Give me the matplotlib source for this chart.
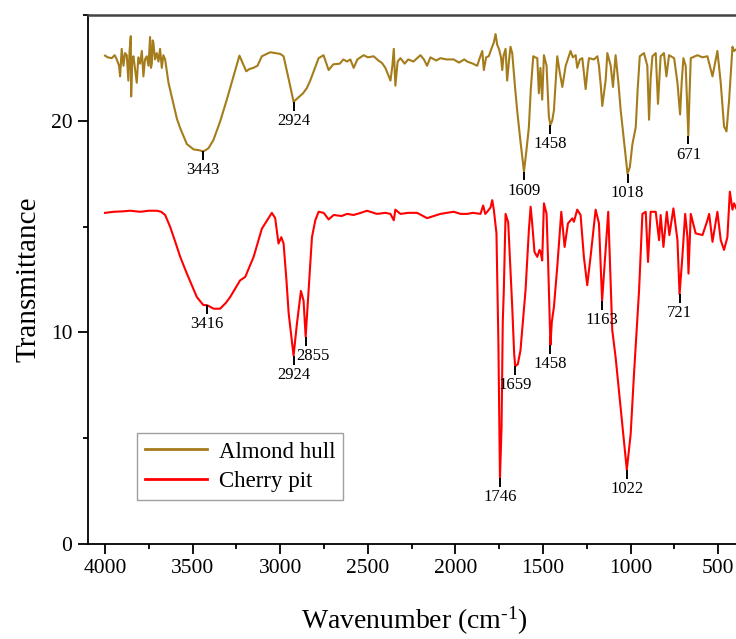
import numpy as np
import matplotlib
matplotlib.use("Agg")
import matplotlib.pyplot as plt
from matplotlib.ticker import MultipleLocator

plt.rcParams['font.family'] = ['Liberation Serif', 'DejaVu Serif']
plt.rcParams['mathtext.fontset'] = 'custom'
plt.rcParams['mathtext.rm'] = 'Liberation Serif'
plt.rcParams['mathtext.it'] = 'Liberation Serif'

# ---------------- data ----------------
almond_wn = [4000, 3985, 3962, 3945, 3933, 3920, 3914, 3905, 3895, 3886, 3876, 3867, 3860, 3853, 3851,
             3845, 3838, 3828, 3819, 3810, 3800, 3790, 3781, 3772, 3762, 3752, 3743, 3738, 3733, 3728,
             3724, 3715, 3705, 3695, 3686, 3676, 3667, 3657, 3638, 3610, 3590, 3571, 3533, 3495, 3457,
             3443, 3429, 3410, 3381, 3343, 3305, 3267, 3233, 3194, 3175, 3154, 3130, 3105, 3057, 3000,
             2981, 2950, 2924, 2910, 2897, 2870, 2848, 2829, 2781, 2753, 2724, 2697, 2660, 2640, 2619,
             2600, 2581, 2560, 2524, 2500, 2467, 2440, 2419, 2400, 2371, 2360, 2352, 2343, 2330, 2314,
             2290, 2270, 2240, 2200, 2180, 2162, 2143, 2110, 2086, 2050, 2010, 1980, 1950, 1933, 1900,
             1876, 1860, 1847, 1838, 1825, 1810, 1795, 1781, 1771, 1762, 1752, 1740, 1733, 1725, 1714,
             1705, 1695, 1686, 1676, 1660, 1648, 1630, 1609, 1595, 1581, 1570, 1556, 1545, 1533, 1524,
             1515, 1505, 1495, 1480, 1467, 1458, 1448, 1438, 1419, 1405, 1390, 1371, 1343, 1330, 1314,
             1305, 1290, 1276, 1257, 1245, 1238, 1210, 1190, 1181, 1170, 1162, 1143, 1133, 1114, 1101,
             1086, 1070, 1057, 1035, 1018, 1005, 990, 971, 960, 948, 924, 905, 895, 886, 876,
             857, 844, 829, 810, 796, 781, 752, 733, 718, 709, 699, 686, 671, 665, 657,
             619, 590, 562, 533, 505, 486, 467, 453, 438, 419, 410, 394, 376]
almond_T = [23.08, 23.0, 22.96, 23.1, 22.9, 22.6, 22.1, 23.4, 22.6, 23.2, 23.1, 21.9, 23.3, 24.0, 21.15,
            22.8, 23.05, 22.4, 21.8, 23.0, 22.7, 23.3, 22.1, 22.9, 23.05, 22.6, 23.96, 22.5, 22.7, 23.8,
            23.7, 22.9, 23.2, 22.8, 23.4, 22.5, 23.1, 22.9, 21.8, 20.8, 20.1, 19.65, 18.9, 18.65, 18.6,
            18.55, 18.6, 18.7, 19.1, 19.97, 21.0, 22.1, 23.08, 22.34, 22.45, 22.5, 22.6, 23.05, 23.24, 23.16,
            23.05, 21.9, 20.9, 21.0, 21.1, 21.3, 21.55, 21.9, 22.96, 23.1, 22.4, 22.67, 22.7, 22.9, 22.8,
            22.9, 22.5, 22.9, 23.1, 23.0, 23.05, 22.85, 22.73, 22.5, 21.9, 22.6, 23.4, 21.66, 22.8, 22.96,
            22.7, 22.9, 22.8, 23.1, 22.9, 22.6, 23.0, 22.85, 22.96, 22.9, 22.9, 22.75, 22.9, 22.8, 22.7,
            22.6, 23.0, 23.3, 22.4, 23.0, 23.05, 23.4, 23.7, 24.1, 23.6, 23.4, 23.0, 22.4, 23.1, 23.4,
            21.9, 22.8, 23.5, 23.2, 21.6, 20.5, 19.1, 17.6, 18.6, 19.7, 21.5, 23.05, 23.0, 22.96, 21.3,
            22.5, 21.0, 23.1, 22.6, 20.2, 19.8, 20.0, 20.5, 23.05, 22.3, 21.6, 22.6, 23.3, 23.0, 23.1,
            22.5, 22.9, 22.96, 21.5, 22.5, 22.96, 22.9, 23.05, 22.6, 21.6, 20.7, 21.9, 23.2, 22.6, 21.6,
            23.1, 21.8, 20.5, 18.8, 17.5, 17.8, 18.9, 19.7, 21.5, 23.05, 23.2, 22.6, 20.05, 22.0, 23.05,
            23.2, 20.8, 23.05, 23.2, 22.1, 23.1, 22.96, 21.8, 20.3, 21.8, 22.96, 22.6, 19.3, 21.0, 22.96,
            23.1, 23.0, 23.05, 22.1, 23.3, 21.8, 19.73, 19.5, 21.0, 23.5, 23.3, 23.4, 23.3]

cherry_wn = [4000, 3950, 3900, 3857, 3800, 3750, 3705, 3680, 3657, 3629, 3600, 3571, 3533, 3476, 3440,
             3416, 3380, 3343, 3310, 3286, 3229, 3200, 3152, 3105, 3048, 3029, 3010, 2994, 2981, 2965,
             2952, 2935, 2924, 2905, 2882, 2867, 2855, 2838, 2819, 2800, 2781, 2752, 2724, 2695, 2650,
             2619, 2581, 2540, 2505, 2448, 2400, 2371, 2352, 2343, 2314, 2270, 2219, 2162, 2124, 2086,
             2050, 2010, 1970, 1933, 1900, 1857, 1842, 1830, 1819, 1800, 1790, 1781, 1766, 1755, 1746,
             1737, 1730, 1724, 1714, 1699, 1676, 1665, 1659, 1644, 1629, 1600, 1581, 1571, 1562, 1549,
             1533, 1520, 1514, 1505, 1495, 1480, 1472, 1458, 1450, 1438, 1419, 1396, 1377, 1358, 1333,
             1324, 1305, 1286, 1267, 1248, 1229, 1200, 1181, 1163, 1143, 1128, 1105, 1086, 1048, 1022,
             1000, 981, 952, 933, 914, 901, 886, 857, 838, 829, 813, 794, 779, 756, 733,
             721, 705, 689, 676, 670, 657, 629, 590, 562, 552, 533, 505, 486, 467, 448,
             434, 419, 410, 394, 376]
cherry_T = [15.65, 15.7, 15.72, 15.75, 15.7, 15.75, 15.75, 15.7, 15.55, 15.0, 14.3, 13.57, 12.78, 11.67, 11.3,
            11.28, 11.12, 11.12, 11.4, 11.67, 12.46, 12.62, 13.57, 14.9, 15.65, 15.4, 14.2, 14.5, 14.2, 12.5,
            10.9, 9.7, 8.9, 10.4, 11.96, 11.5, 9.8, 12.0, 14.5, 15.3, 15.7, 15.65, 15.34, 15.55, 15.5,
            15.6, 15.55, 15.65, 15.75, 15.6, 15.65, 15.6, 15.3, 15.8, 15.6, 15.65, 15.65, 15.4, 15.5, 15.6,
            15.65, 15.7, 15.6, 15.6, 15.65, 15.6, 16.0, 15.6, 15.7, 15.9, 16.25, 15.8, 14.68, 9.5, 3.1,
            5.5, 10.5, 12.0, 15.6, 15.2, 11.2, 9.0, 8.4, 8.5, 9.15, 12.0, 14.83, 15.94, 15.15, 13.8,
            13.57, 13.9, 13.8, 13.4, 16.1, 15.6, 13.57, 9.4, 10.5, 11.2, 13.1, 15.7, 14.04, 15.15, 15.39,
            15.23, 15.8, 15.55, 13.57, 12.23, 13.57, 15.8, 15.15, 11.5, 13.9, 15.7, 10.1, 8.83, 5.67, 3.5,
            5.2, 8.04, 12.0, 15.6, 15.7, 13.33, 15.7, 15.7, 14.36, 15.55, 14.04, 15.7, 14.6, 15.86, 14.36,
            11.8, 13.57, 15.6, 14.5, 12.78, 15.6, 14.68, 14.6, 15.3, 15.6, 14.28, 15.7, 14.36, 13.9, 14.5,
            16.65, 15.8, 16.1, 15.8, 15.8]

almond_peaks = [3443, 2924, 1609, 1458, 1018, 671]
cherry_peaks = [3416, 2924, 2855, 1746, 1659, 1458, 1163, 1022, 721]

series_names = ["Almond hull", "Cherry pit"]
colors = ["#A57C1B", "#FF0000"]

# ---------------- figure ----------------
W, H = 736, 639
fig = plt.figure(figsize=(W / 100, H / 100), dpi=100)
ax = fig.add_axes([87.7 / W, 95 / H, 652.3 / W, 529 / H])

ax.plot(almond_wn, almond_T, color=colors[0], lw=1.5, label=series_names[0])
ax.plot(cherry_wn, cherry_T, color=colors[1], lw=1.5, label=series_names[1])

ax.set_xlim(4099, 376)
ax.set_ylim(0, 25)


def annotate(wns, Ts, peaks, shifts):
    wns = np.asarray(wns, float)
    Ts = np.asarray(Ts, float)
    for p in peaks:
        m = np.abs(wns - p) <= 12
        tip = Ts[m].min()
        ax.plot([p, p], [tip, tip - 0.42], color='black', lw=1.4, solid_capstyle='butt')
        dx = shifts.get(p, 0)
        ax.annotate(str(p), xy=(p, tip - 0.42), xytext=(dx, -1.5), textcoords='offset points',
                    ha='center', va='top', fontsize=12)


annotate(almond_wn, almond_T, almond_peaks, {})
annotate(cherry_wn, cherry_T, cherry_peaks, {2855: 5})

ax.xaxis.set_major_locator(MultipleLocator(500))
ax.xaxis.set_minor_locator(MultipleLocator(250))
ax.yaxis.set_major_locator(MultipleLocator(10))
ax.yaxis.set_minor_locator(MultipleLocator(5))
ax.tick_params(which='major', direction='out', length=7, width=1.3, labelsize=15.5, pad=4,
               top=False, right=False)
ax.tick_params(which='minor', direction='out', length=3.5, width=1.3, top=False, right=False)

for s in ['left', 'bottom']:
    ax.spines[s].set_linewidth(1.3)
ax.spines['top'].set_linewidth(1.8)
ax.spines['top'].set_color('#444444')
ax.spines['right'].set_visible(False)

ax.set_xlabel(r"Wavenumber (cm$^{\text{-1}}$)", fontsize=20, labelpad=19)
ax.set_ylabel("Transmittance", fontsize=21, labelpad=7)

leg = ax.legend(loc='upper left', bbox_to_anchor=(0.076, 0.209), borderaxespad=0,
                fontsize=16.5, frameon=True, fancybox=False, handlelength=2.7,
                handletextpad=0.5, borderpad=0.35, labelspacing=0.35)
leg.get_frame().set_edgecolor('#888888')
leg.get_frame().set_linewidth(1.0)
for line in leg.get_lines():
    line.set_linewidth(2.0)

fig.savefig("out.png", dpi=100)
